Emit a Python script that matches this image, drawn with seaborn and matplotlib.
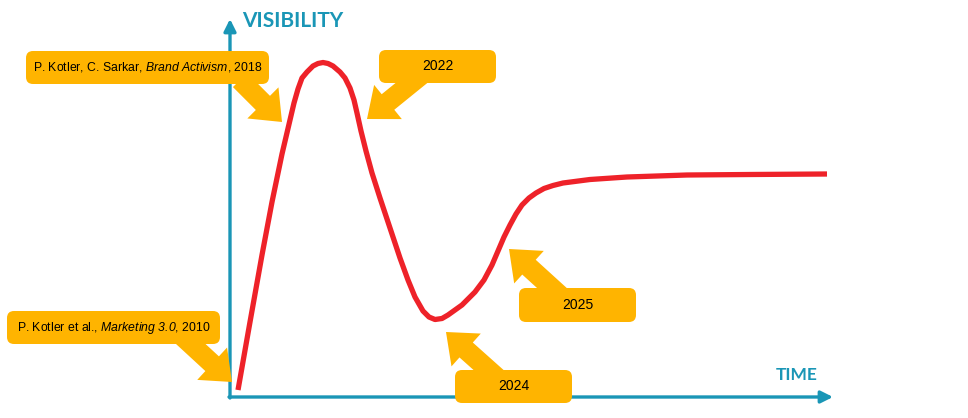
"""
Hype-cycle style chart: visibility of a concept over time
"""

import matplotlib.pyplot as plt
import seaborn as sns
import pandas as pd
from matplotlib.patches import FancyBboxPatch

sns.set_style("white")
plt.rcParams['font.family'] = ['Liberation Sans', 'DejaVu Sans']
plt.rcParams['mathtext.fontset'] = 'custom'
plt.rcParams['mathtext.rm'] = 'Liberation Sans'
plt.rcParams['mathtext.it'] = 'Liberation Sans:italic'
plt.rcParams['mathtext.sf'] = 'Liberation Sans:italic'

# Curve (time, visibility)
time = [8, 20, 32, 42, 52, 60, 64, 68, 72, 77, 83, 88, 93, 98, 103, 110,
        115, 120, 124, 127, 131, 136, 142, 150, 160, 170, 178, 185, 193, 199,
        205, 212, 218, 225, 232, 245, 254, 262, 268, 274, 280, 286, 292, 299,
        306, 314, 323, 333, 360, 397, 457, 520, 597]
visibility = [7, 75, 142, 195, 243, 277, 294, 308, 319, 325, 331, 333.5,
              334.5, 333.5, 331, 325, 319, 309, 297, 284, 266, 246, 224, 199,
              169, 139, 117, 100, 86, 80, 77.5, 78.5, 82, 87, 92, 105, 117,
              132, 146, 160, 172, 183, 192, 199, 204, 208.5, 211.5, 214,
              217.5, 220, 222, 222.5, 223]

# Annotation labels
labels = [
    r"P. Kotler, C. Sarkar, $\mathsf{Brand\ Activism}$, 2018",
    "2022",
    r"P. Kotler et al., $\mathsf{Marketing\ 3.0}$, 2010",
    "2025",
    "2024",
]

TEAL = '#1a96b6'
ORANGE = '#ffb400'
RED = '#ee2229'

fig = plt.figure(figsize=(9.68, 4.18), dpi=100)
ax = fig.add_axes([0, 0, 1, 1])

# Axes with arrow heads
ax.annotate('', xy=(0, 378), xytext=(0, -1),
            arrowprops=dict(arrowstyle='-|>', lw=2.4, color=TEAL,
                            mutation_scale=18, shrinkA=0, shrinkB=0), zorder=1)
ax.annotate('', xy=(603, 0), xytext=(-1, 0),
            arrowprops=dict(arrowstyle='-|>', lw=2.4, color=TEAL,
                            mutation_scale=18, shrinkA=0, shrinkB=0), zorder=1)
ax.text(12, 376, 'VISIBILITY', color=TEAL, fontsize=15, fontweight='bold',
        family=['Lato', 'DejaVu Sans'], ha='left', va='center')
ax.text(567, 22, 'TIME', color=TEAL, fontsize=12.5, fontweight='bold',
        family=['Lato', 'DejaVu Sans'], ha='center', va='center')

# Curve
df = pd.DataFrame({'time': time, 'visibility': visibility})
sns.lineplot(data=df, x='time', y='visibility', sort=False, ax=ax,
             color=RED, linewidth=3.8, zorder=2,
             solid_joinstyle='round', solid_capstyle='butt')
ax.set_xlim(-230, 738)
ax.set_ylim(-21, 397)
ax.set_axis_off()

# Callout boxes: (left, bottom, width, height) and arrows (x, y, dx, dy)
boxes = [(-204, 313, 243, 33), (149, 314, 117, 33), (-223, 53, 213, 33),
         (289, 75, 117, 34), (225, -6, 117, 33)]
arrows = [(10, 317, 42, -42), (195, 325, -58, -47), (-49, 62, 51, -47),
          (334, 98, -55, 50), (272, 15, -56, 50)]
font_sizes = [8.8, 10, 8.8, 10, 10]

for (x, y, dx, dy) in arrows:
    ax.arrow(x, y, dx, dy, width=20, head_width=44, head_length=27,
             length_includes_head=True, color=ORANGE, lw=0, zorder=3)

for label, fs, (x0, y0, w, h) in zip(labels, font_sizes, boxes):
    ax.add_patch(FancyBboxPatch((x0, y0), w, h,
                                boxstyle='round,pad=0,rounding_size=7',
                                fc=ORANGE, ec='none', zorder=4))
    ax.text(x0 + w / 2, y0 + h / 2, label, fontsize=fs, color='black',
            ha='center', va='center', zorder=5)

fig.savefig('out.png', dpi=100)
